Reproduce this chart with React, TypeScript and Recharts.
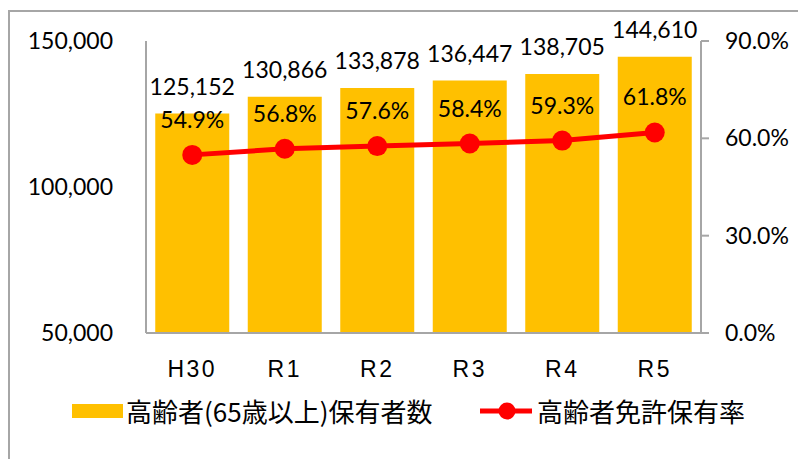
import { ComposedChart, Bar, Line, XAxis, YAxis, LabelList, Legend } from "recharts";

const years = ["H30", "R1", "R2", "R3", "R4", "R5"];
const holders = [125152, 130866, 133878, 136447, 138705, 144610];
const rates = [54.9, 56.8, 57.6, 58.4, 59.3, 61.8];
const countTicks = [50000, 100000, 150000];
const rateTicks = [0, 30, 60, 90];

const barName = "高齢者(65歳以上)保有者数";
const lineName = "高齢者免許保有率";

const data = years.map((year, i) => ({ year, holders: holders[i], rate: rates[i] }));

const numFont = "Lato, 'Open Sans', sans-serif";
const axisGray = "#A6A6A6";

function ChartLegend() {
    return (
        <div style={{ position: "relative", width: 798, height: 40, fontFamily: "'Noto Sans CJK JP', sans-serif", fontSize: 26, color: "#000" }}>
            <div style={{ position: "absolute", left: 72, top: 0, height: 40, display: "flex", alignItems: "center" }}>
                <span style={{ display: "inline-block", width: 51, height: 14, background: "#FFC000", marginRight: 3 }} />
                <span style={{ lineHeight: 1 }}>{barName}</span>
            </div>
            <div style={{ position: "absolute", left: 480, top: 0, height: 40, display: "flex", alignItems: "center" }}>
                <svg width={54} height={20} style={{ marginRight: 3 }}>
                    <line x1={0} y1={10} x2={52} y2={10} stroke="#FF0000" strokeWidth={5} />
                    <circle cx={27} cy={10} r={8.5} fill="#FF0000" />
                </svg>
                <span style={{ lineHeight: 1 }}>{lineName}</span>
            </div>
        </div>
    );
}

export default function App() {
    return (
        <div style={{ position: "absolute", left: 0, top: 0, width: 798, height: 459, overflow: "hidden", background: "#fff" }}>
            {/* outer frame, only top and left edges are visible */}
            <div style={{ position: "absolute", left: 8, top: 10, width: 900, height: 600, border: "2px solid #A6A6A6" }} />
            <div style={{ position: "absolute", left: 0, top: 0 }}>
                <ComposedChart width={798} height={459} data={data} barCategoryGap="10%" margin={{ top: 41, right: 0, bottom: 0, left: 0 }}>
                    <XAxis
                        dataKey="year"
                        height={126}
                        axisLine={{ stroke: axisGray, strokeWidth: 2 }}
                        tickLine={false}
                        tickSize={0}
                        tickMargin={28}
                        tick={{ fill: "#000", fontSize: 23, fontFamily: "'Liberation Sans', Arial, sans-serif", letterSpacing: 2.5 }}
                    />
                    <YAxis
                        yAxisId="left"
                        orientation="left"
                        width={146}
                        domain={[50000, 150000]}
                        ticks={countTicks}
                        tickFormatter={(v: number) => v.toLocaleString("en-US")}
                        axisLine={{ stroke: axisGray, strokeWidth: 2 }}
                        tickLine={false}
                        tickSize={0}
                        tickMargin={33}
                        tick={{ fill: "#000", fontSize: 23, fontFamily: numFont }}
                    />
                    <YAxis
                        yAxisId="right"
                        orientation="right"
                        width={97}
                        domain={[0, 90]}
                        ticks={rateTicks}
                        tickFormatter={(v: number) => `${v.toFixed(1)}%`}
                        axisLine={{ stroke: axisGray, strokeWidth: 2 }}
                        tickLine={{ stroke: axisGray, strokeWidth: 2 }}
                        tickSize={8}
                        tickMargin={16}
                        tick={{ fill: "#000", fontSize: 23, fontFamily: numFont }}
                    />
                    <Bar yAxisId="left" dataKey="holders" name={barName} fill="#FFC000" isAnimationActive={false}>
                        <LabelList
                            dataKey="holders"
                            position="top"
                            offset={19}
                            formatter={(v: any) => Number(v).toLocaleString("en-US")}
                            style={{ fill: "#000", fontSize: 23, fontFamily: numFont }}
                        />
                    </Bar>
                    <Line
                        yAxisId="right"
                        dataKey="rate"
                        name={lineName}
                        stroke="#FF0000"
                        strokeWidth={5}
                        dot={{ r: 10, fill: "#FF0000", stroke: "#FF0000", strokeWidth: 0 }}
                        activeDot={false}
                        isAnimationActive={false}
                    >
                        <LabelList
                            dataKey="rate"
                            position="top"
                            offset={27}
                            formatter={(v: any) => `${Number(v).toFixed(1)}%`}
                            style={{ fill: "#000", fontSize: 23, fontFamily: numFont }}
                        />
                    </Line>
                    <Legend
                        layout="horizontal"
                        verticalAlign="middle"
                        content={() => <ChartLegend />}
                        wrapperStyle={{ left: 0, top: 391, width: 798, height: 40 }}
                    />
                </ComposedChart>
            </div>
        </div>
    );
}
